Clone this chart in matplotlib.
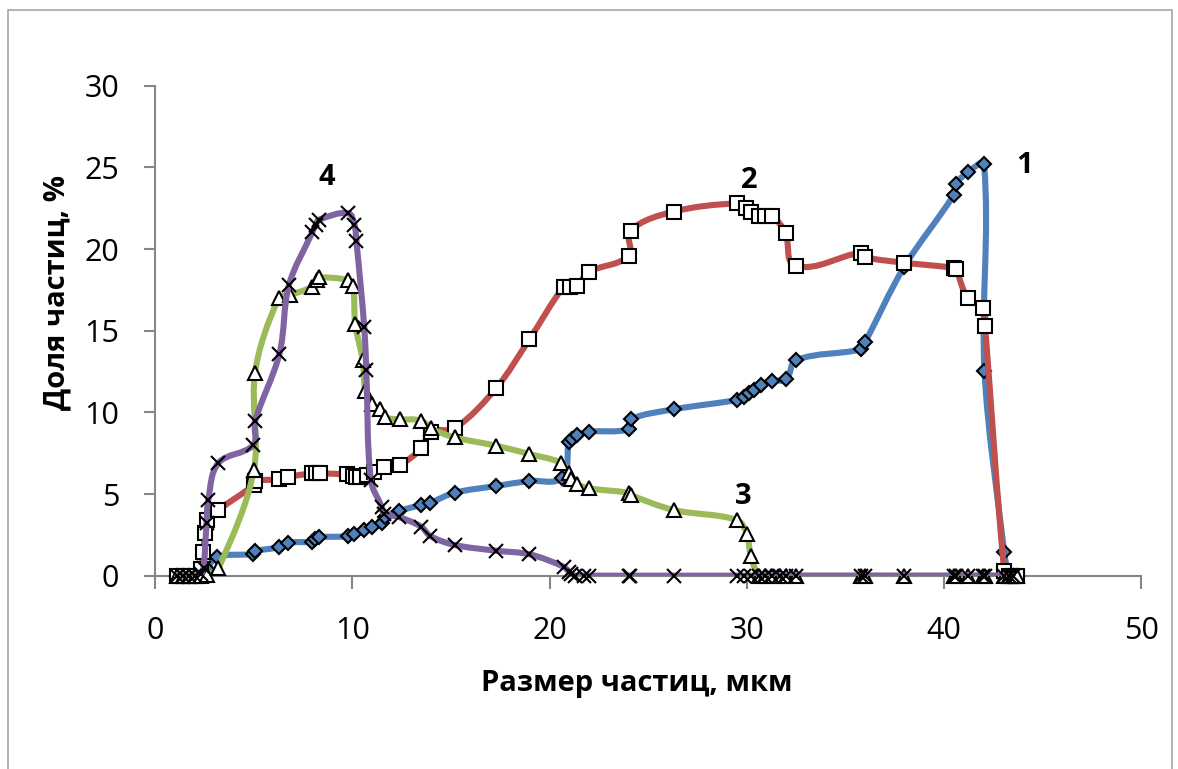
import numpy as np
import matplotlib
matplotlib.use('Agg')
import matplotlib.pyplot as plt
from matplotlib.path import Path
from matplotlib.patches import PathPatch, Rectangle

plt.rcParams['font.family'] = ['Open Sans', 'DejaVu Sans']

# series 1 (blue, diamonds)
x1 = [1.1, 1.4, 1.7, 2.0, 2.3, 2.6, 3.15, 4.98, 5.06, 6.3, 6.75, 7.95, 8.12, 8.3, 9.78, 10.1,
      10.56, 10.98, 11.49, 11.66, 12.36, 13.49, 13.95, 15.18, 17.28, 18.97, 20.63, 20.97, 21.13,
      21.38, 21.98, 24.0, 24.1, 26.3, 29.5, 29.85, 30.1, 30.36, 30.7, 31.3, 32.0, 32.5, 35.77,
      36.0, 37.97, 40.48, 40.6, 41.2, 42.03, 42.05, 43.05, 43.3, 43.5, 43.7]
y1 = [0, 0, 0, 0, 0.1, 0.4, 1.15, 1.33, 1.5, 1.75, 2.02, 2.08, 2.22, 2.35, 2.42, 2.58,
      2.77, 3.0, 3.25, 3.6, 3.96, 4.33, 4.47, 5.08, 5.49, 5.8, 6.0, 8.2, 8.4,
      8.6, 8.82, 8.96, 9.58, 10.19, 10.76, 10.96, 11.17, 11.37, 11.68, 11.94, 12.03, 13.2, 13.86,
      14.3, 18.9, 23.3, 24.0, 24.7, 25.2, 12.55, 1.47, 0, 0, 0]

# series 2 (red, squares)
x2 = [1.1, 1.4, 1.7, 2.0, 2.3, 2.44, 2.52, 2.64, 3.2, 5.0, 5.06, 6.25, 6.75, 7.95, 8.15, 8.33,
      9.72, 10.05, 10.2, 10.4, 10.73, 11.07, 11.58, 12.39, 13.49, 13.97, 15.18, 17.28, 18.97,
      20.71, 21.05, 21.39, 21.98, 24.0, 24.1, 26.3, 29.5, 29.95, 30.2, 30.6, 30.9, 31.3, 31.96,
      32.47, 35.77, 36.0, 37.97, 40.5, 40.6, 41.2, 42.0, 42.08, 43.05, 43.3, 43.5, 43.7]
y2 = [0, 0, 0, 0, 0.4, 1.47, 2.6, 3.41, 4.02, 5.55, 5.8, 5.9, 6.06, 6.27, 6.3, 6.27,
      6.2, 6.1, 6.05, 6.07, 6.17, 6.37, 6.64, 6.78, 7.8, 8.82, 9.02, 11.47, 14.47,
      17.7, 17.7, 17.76, 18.6, 19.58, 21.13, 22.3, 22.8, 22.5, 22.3, 22.0, 22.0, 22.0, 21.0,
      18.97, 19.78, 19.5, 19.17, 18.86, 18.8, 17.0, 16.37, 15.3, 0.3, 0, 0, 0]

# series 3 (green, triangles)
x3 = [1.1, 1.4, 1.7, 2.0, 2.3, 2.6, 3.2, 5.0, 5.06, 6.25, 6.84, 7.97, 8.2, 8.3, 9.77, 10.03,
      10.14, 10.52, 10.65, 10.98, 11.4, 11.66, 12.39, 13.49, 13.97, 15.18, 17.28, 18.97, 20.6,
      20.97, 21.1, 21.38, 21.98, 24.0, 24.1, 26.3, 29.5, 30.0, 30.2, 30.6, 30.9, 31.3, 31.7,
      32.0, 32.5, 35.77, 36.0, 37.97, 40.5, 40.6, 41.2, 42.0, 42.1, 43.05, 43.3, 43.5, 43.7]
y3 = [0, 0, 0, 0, 0, 0.05, 0.45, 6.47, 12.43, 16.98, 17.19, 17.7, 18.1, 18.27, 18.1, 17.74,
      15.41, 13.2, 11.33, 10.51, 10.19, 9.7, 9.58, 9.5, 9.02, 8.47, 7.96, 7.45, 6.9,
      6.27, 5.9, 5.6, 5.35, 5.08, 4.94, 4.02, 3.41, 2.55, 1.2, 0, 0, 0, 0,
      0, 0, 0, 0, 0, 0, 0, 0, 0, 0, 0, 0, 0, 0]

# series 4 (purple, crosses)
x4 = [1.1, 1.4, 1.7, 2.0, 2.3, 2.45, 2.6, 2.69, 3.2, 4.97, 5.06, 6.3, 6.78, 7.97, 8.14, 8.3,
      9.78, 10.1, 10.2, 10.6, 10.7, 10.93, 11.49, 11.6, 12.34, 13.49, 13.94, 15.18, 17.28, 18.97,
      20.71, 21.0, 21.1, 21.3, 21.73, 21.98, 24.0, 24.05, 26.3, 29.5, 29.85, 30.2, 30.6, 30.9,
      31.3, 31.7, 32.0, 32.5, 35.77, 36.0, 37.97, 40.5, 40.6, 41.2, 42.0, 42.1, 43.05, 43.3, 43.5]
y4 = [0, 0, 0, 0, 0.1, 0.5, 3.2, 4.65, 6.9, 8.0, 9.45, 13.6, 17.8, 21.05, 21.5, 21.8,
      22.2, 21.5, 20.5, 15.2, 12.58, 5.86, 4.19, 3.8, 3.6, 3.0, 2.43, 1.88, 1.53, 1.31,
      0.55, 0.2, 0.1, 0, 0, 0, 0, 0, 0, 0, 0, 0, 0, 0,
      0, 0, 0, 0, 0, 0, 0, 0, 0, 0, 0, 0, 0, 0, 0]

curve_labels = ['1', '2', '3', '4']
label_pos = [(44.1, 25.1), (30.1, 24.2), (29.8, 4.85), (8.7, 24.4)]


def smooth_path(ax, x, y):
    # Excel-like smoothed line: bezier segments, handles scaled by screen chord lengths
    pts = np.column_stack([x, y]).astype(float)
    scr = ax.transData.transform(pts)
    n = len(pts)
    verts = [pts[0]]
    codes = [Path.MOVETO]

    def tangent(i):
        a = max(i - 1, 0)
        b = min(i + 1, n - 1)
        return pts[b] - pts[a], np.hypot(*(scr[b] - scr[a]))

    for i in range(n - 1):
        p1, p2 = pts[i], pts[i + 1]
        d12 = np.hypot(*(scr[i + 1] - scr[i]))
        t1, l1 = tangent(i)
        t2, l2 = tangent(i + 1)
        c1 = p1 + t1 * (d12 / l1 / 3 if l1 > 0 else 0)
        c2 = p2 - t2 * (d12 / l2 / 3 if l2 > 0 else 0)
        verts += [c1, c2, p2]
        codes += [Path.CURVE4] * 3
    return Path(verts, codes)


fig = plt.figure(figsize=(11.78, 7.69), dpi=100)
ax = fig.add_axes([0.1318, 0.2514, 0.8370, 0.6370])
ax.set_xlim(0, 50)
ax.set_ylim(0, 30)

series = [
    (x1, y1, '#4F81BD', 'D', 7.5, '#4F81BD'),
    (x2, y2, '#C0504D', 's', 10, 'white'),
    (x3, y3, '#9BBB59', '^', 10, 'white'),
    (x4, y4, '#8064A2', 'x', 10, 'none'),
]
for k, (xs, ys, col, mk, ms, fc) in enumerate(series):
    ax.add_patch(PathPatch(smooth_path(ax, xs, ys), fill=False, edgecolor=col, lw=4.4,
                           capstyle='round', joinstyle='round', zorder=2 + 2 * k))
    ax.plot(xs, ys, ls='none', marker=mk, ms=ms, mfc=fc, mec='black', mew=1.5,
            zorder=3 + 2 * k, clip_on=False)

for lab, (lx, ly) in zip(curve_labels, label_pos):
    ax.text(lx, ly, lab, fontsize=21, fontweight='bold', ha='center', va='center')

for s in ['top', 'right']:
    ax.spines[s].set_visible(False)
for s in ['left', 'bottom']:
    ax.spines[s].set_color('#868686')
    ax.spines[s].set_linewidth(1.5)
ax.set_xticks([0, 10, 20, 30, 40, 50])
ax.set_yticks([0, 5, 10, 15, 20, 25, 30])
ax.tick_params(axis='both', colors='#868686', width=1.5, labelcolor='black', labelsize=22)
ax.tick_params(axis='x', length=9, pad=20)
ax.tick_params(axis='y', length=8, pad=18)

fig.text(637 / 1178, 1 - 683 / 769, 'Размер частиц, мкм', fontsize=21, fontweight='bold',
         ha='center', va='center')
fig.text(57 / 1178, 1 - 292 / 769, 'Доля частиц, %', fontsize=21, fontweight='bold',
         ha='center', va='center', rotation=90)

fig.add_artist(Rectangle((8 / 1178, -0.05), 1164 / 1178, 1.05 - 10 / 769, transform=fig.transFigure,
                         fill=False, edgecolor='#A6A6A6', lw=1.2))

fig.savefig('out.png', dpi=100)
